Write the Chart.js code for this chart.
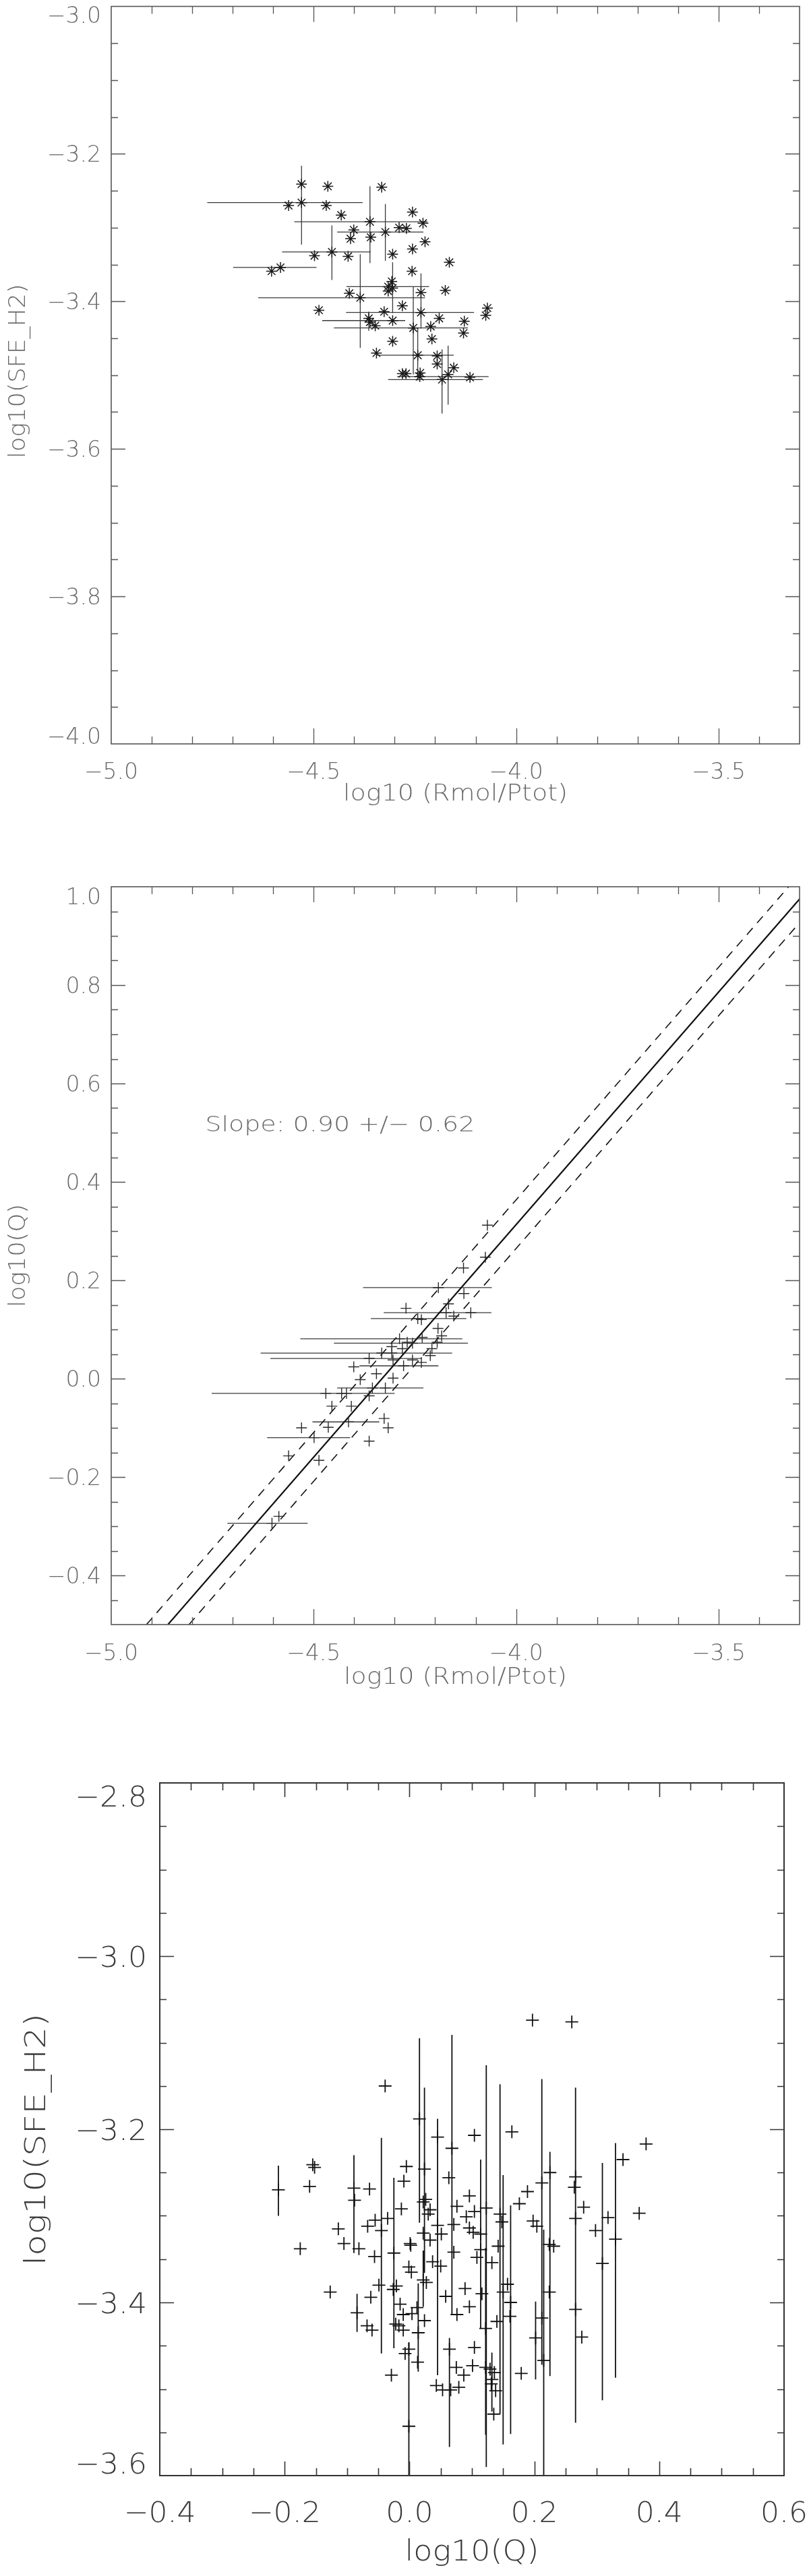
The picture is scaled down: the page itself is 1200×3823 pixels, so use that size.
<!DOCTYPE html>
<html>
<head>
<meta charset="utf-8">
<script src="https://cdn.jsdelivr.net/npm/chart.js@4.4.1/dist/chart.umd.min.js"></script>
<style>
html,body{margin:0;padding:0;background:#fff;}
body{width:1200px;height:3823px;position:relative;overflow:hidden;}
canvas{position:absolute;left:0;}
</style>
</head>
<body>
<canvas id="c1" width="1200" height="1250" style="top:0px"></canvas>
<canvas id="c2" width="1200" height="1300" style="top:1250px"></canvas>
<canvas id="c3" width="1200" height="1273" style="top:2550px"></canvas>
<script>
// ---------------- Panel 1 : log10(SFE_H2) vs log10(Rmol/Ptot) ----------------
const p1X = [-4.530,-4.465,-4.332,-4.562,-4.530,-4.469,-4.432,-4.256,-4.361,-4.230,
  -4.401,-4.323,-4.289,-4.271,-4.409,-4.359,-4.225,-4.256,-4.305,-4.455,
  -4.498,-4.415,-4.582,-4.604,-4.165,-4.257,-4.307,-4.316,-4.305,-4.316,
  -4.235,-4.412,-4.385,-4.175,-4.281,-4.487,-4.071,-4.075,-4.326,-4.235,
  -4.190,-4.364,-4.361,-4.348,-4.305,-4.128,-4.254,-4.211,-4.130,-4.305,
  -4.208,-4.345,-4.243,-4.195,-4.195,-4.154,-4.281,-4.272,-4.237,-4.238,
  -4.183,-4.114,-4.168];
const p1Y = [-3.241,-3.244,-3.245,-3.270,-3.266,-3.270,-3.283,-3.279,-3.292,-3.294,
  -3.303,-3.306,-3.300,-3.301,-3.315,-3.313,-3.319,-3.329,-3.336,-3.333,
  -3.338,-3.339,-3.354,-3.359,-3.347,-3.359,-3.373,-3.380,-3.382,-3.386,
  -3.388,-3.389,-3.395,-3.385,-3.406,-3.412,-3.409,-3.419,-3.414,-3.415,
  -3.423,-3.423,-3.428,-3.433,-3.426,-3.427,-3.436,-3.434,-3.443,-3.454,
  -3.451,-3.470,-3.473,-3.474,-3.485,-3.490,-3.498,-3.498,-3.497,-3.502,
  -3.506,-3.503,-3.499];
const p1XLo = [null,null,null,null,-4.763,null,null,null,-4.548,null,
  null,-4.442,null,null,null,null,null,null,null,-4.578,
  null,null,-4.699,null,null,null,null,-4.419,null,null,
  null,null,-4.637,null,null,null,null,null,null,-4.420,
  null,null,null,null,-4.479,null,-4.450,null,null,null,
  null,null,-4.345,null,null,null,null,null,null,-4.294,
  -4.316,null,null];
const p1XHi = [null,null,null,null,-4.379,null,null,null,-4.219,null,
  null,-4.229,null,null,null,null,null,null,null,-4.359,
  null,null,-4.493,null,null,null,null,-4.215,null,null,
  null,null,-4.225,null,null,null,null,null,null,-4.104,
  null,null,null,null,-4.274,null,-4.119,null,null,null,
  null,null,-4.154,null,null,null,null,null,null,-4.068,
  -4.082,null,null];
const p1YLo = [null,null,null,null,-3.323,null,null,null,-3.348,null,
  null,-3.345,null,null,null,null,null,null,null,-3.371,
  null,null,null,null,null,null,null,null,-3.416,null,
  -3.437,null,-3.463,null,null,null,null,null,null,null,
  null,-3.440,null,null,null,null,-3.499,null,null,null,
  null,null,-3.507,null,null,null,null,null,null,null,
  -3.552,null,-3.540];
const p1YHi = [null,null,null,null,-3.216,null,null,null,-3.244,null,
  null,-3.268,null,null,null,null,null,null,null,-3.297,
  null,null,null,null,null,null,null,null,-3.347,null,
  -3.362,null,-3.336,null,null,null,null,null,null,null,
  null,-3.414,null,null,null,null,-3.380,null,null,null,
  null,null,-3.436,null,null,null,null,null,null,null,
  -3.465,null,-3.460];
const p1XTicks = [-5.0,-4.5,-4.0,-3.5];
const p1XTickLabels = ['\u22125.0','\u22124.5','\u22124.0','\u22123.5'];
const p1YTicks = [-4.0,-3.8,-3.6,-3.4,-3.2,-3.0];
const p1YTickLabels = ['\u22124.0','\u22123.8','\u22123.6','\u22123.4','\u22123.2','\u22123.0'];

// ---------------- Panel 2 : log10(Q) vs log10(Rmol/Ptot) ----------------
const p2X = [-4.071,-4.076,-4.130,-4.192,-4.129,-4.167,-4.272,-4.173,-4.112,-4.154,
  -4.243,-4.234,-4.193,-4.184,-4.232,-4.288,-4.195,-4.256,-4.269,-4.307,
  -4.281,-4.208,-4.307,-4.332,-4.212,-4.363,-4.304,-4.256,-4.234,-4.278,
  -4.401,-4.345,-4.304,-4.385,-4.355,-4.323,-4.470,-4.431,-4.419,-4.363,
  -4.455,-4.407,-4.326,-4.414,-4.530,-4.464,-4.316,-4.499,-4.363,-4.562,
  -4.487,-4.586,-4.603];
const p2Y = [0.312,0.247,0.225,0.185,0.173,0.152,0.143,0.134,0.134,0.127,
  0.122,0.120,0.102,0.087,0.084,0.081,0.074,0.072,0.074,0.065,
  0.061,0.061,0.052,0.052,0.047,0.041,0.038,0.038,0.033,0.026,
  0.024,0.010,0.001,-0.002,-0.019,-0.019,-0.030,-0.030,-0.030,-0.035,
  -0.056,-0.056,-0.081,-0.088,-0.100,-0.099,-0.100,-0.120,-0.127,-0.157,
  -0.166,-0.280,-0.294];
const p2XLo = [null,null,null,-4.378,null,null,null,-4.327,null,null,
  -4.359,null,null,null,null,-4.533,null,-4.450,null,null,
  null,null,-4.631,null,null,-4.607,null,null,null,-4.387,
  null,null,null,null,-4.442,null,-4.752,null,null,null,
  null,null,null,-4.503,null,null,null,-4.615,null,null,
  null,null,-4.713];
const p2XHi = [null,null,null,-4.060,null,null,null,-4.061,null,null,
  -4.123,null,null,null,null,-4.133,null,-4.119,null,null,
  null,null,-4.158,null,null,-4.234,null,null,null,-4.192,
  null,null,null,null,-4.229,null,-4.300,null,null,null,
  null,null,null,-4.338,null,null,null,-4.410,null,null,
  null,null,-4.515];
const p2FitX = [-4.860,-3.300];
const p2FitY = [-0.500,0.975];
const p2UpperX = [-4.913,-3.327];
const p2UpperY = [-0.500,1.000];
const p2LowerX = [-4.808,-3.300];
const p2LowerY = [-0.500,0.927];
const p2SlopeText = 'Slope: 0.90 +/\u2212 0.62';
const p2XTicks = [-5.0,-4.5,-4.0,-3.5];
const p2XTickLabels = ['\u22125.0','\u22124.5','\u22124.0','\u22123.5'];
const p2YTicks = [-0.4,-0.2,0.0,0.2,0.4,0.6,0.8,1.0];
const p2YTickLabels = ['\u22120.4','\u22120.2','0.0','0.2','0.4','0.6','0.8','1.0'];

// ---------------- Panel 3 : log10(SFE_H2) vs log10(Q) ----------------
const p3X = [-0.210,-0.155,-0.152,-0.160,-0.175,-0.114,-0.105,-0.127,-0.089,-0.088,
  -0.081,-0.084,-0.064,-0.067,-0.055,-0.056,-0.045,-0.035,-0.039,-0.049,
  -0.062,-0.068,-0.060,-0.025,-0.029,-0.026,-0.021,-0.015,-0.022,-0.017,
  -0.010,-0.010,-0.013,-0.009,-0.005,0.001,0.002,-0.001,0.003,-0.001,
  -0.007,-0.001,0.004,0.012,0.014,0.013,0.016,0.024,0.022,0.026,
  0.033,0.030,0.033,0.022,0.022,0.027,0.024,0.045,0.045,0.051,
  0.037,0.050,0.058,0.043,0.053,0.063,0.068,0.071,0.071,0.076,
  0.064,0.066,0.076,0.075,
  0.197,0.260,0.104,0.164,0.379,0.342,0.225,0.212,0.189,0.176,
  0.096,0.266,0.264,0.266,0.279,0.368,0.318,0.298,0.309,0.330,
  0.104,0.091,0.096,0.102,0.123,0.114,0.114,0.108,0.132,0.145,
  0.148,0.142,0.198,0.204,0.224,0.231,0.089,0.096,0.116,0.122,
  0.140,0.150,0.157,0.162,0.161,0.104,0.101,0.087,0.122,0.129,
  0.136,0.131,0.138,0.135,0.132,0.079,0.179,0.202,0.212,0.215,
  0.224,0.266,0.276];
const p3Y = [-3.270,-3.241,-3.244,-3.266,-3.338,-3.315,-3.332,-3.388,-3.268,-3.282,
  -3.338,-3.412,-3.269,-3.312,-3.305,-3.347,-3.317,-3.303,-3.150,-3.380,
  -3.394,-3.427,-3.432,-3.343,-3.484,-3.385,-3.381,-3.402,-3.425,-3.427,
  -3.432,-3.414,-3.292,-3.260,-3.243,-3.332,-3.334,-3.359,-3.365,-3.454,
  -3.459,-3.543,-3.413,-3.406,-3.435,-3.469,-3.188,-3.246,-3.284,-3.281,
  -3.293,-3.298,-3.328,-3.320,-3.374,-3.377,-3.421,-3.209,-3.311,-3.321,
  -3.353,-3.358,-3.393,-3.496,-3.501,-3.256,-3.222,-3.310,-3.342,-3.289,
  -3.454,-3.501,-3.414,-3.475,
  -3.074,-3.076,-3.207,-3.203,-3.217,-3.235,-3.250,-3.262,-3.272,-3.286,
  -3.277,-3.255,-3.267,-3.303,-3.290,-3.297,-3.302,-3.317,-3.355,-3.327,
  -3.295,-3.301,-3.314,-3.319,-3.291,-3.321,-3.339,-3.348,-3.354,-3.298,
  -3.307,-3.335,-3.306,-3.312,-3.333,-3.335,-3.384,-3.405,-3.390,-3.430,
  -3.422,-3.388,-3.379,-3.400,-3.416,-3.452,-3.473,-3.484,-3.475,-3.477,
  -3.481,-3.494,-3.502,-3.529,-3.489,-3.498,-3.482,-3.441,-3.418,-3.467,
  -3.388,-3.408,-3.440];
const p3YLo = [-3.300,null,null,null,null,null,null,null,-3.343,null,
  null,-3.434,null,null,null,null,-3.459,null,null,null,
  null,null,null,-3.453,null,null,null,null,null,null,
  null,null,null,null,null,null,null,null,null,-3.650,
  null,null,null,null,-3.480,null,-3.308,-3.366,null,null,
  null,null,null,null,-3.405,null,null,-3.484,null,null,
  null,null,null,null,null,null,-3.414,null,null,null,
  -3.567,null,null,null,
  null,null,null,null,null,null,-3.485,-3.432,null,null,
  null,-3.539,null,null,null,null,null,null,-3.513,-3.487,
  null,null,null,null,-3.590,null,-3.430,null,null,-3.529,
  null,null,null,null,null,null,null,null,null,-3.553,
  null,-3.564,null,-3.552,null,null,null,null,null,null,
  null,null,null,null,-3.526,null,null,-3.489,-3.472,-3.650,
  null,null,null];
const p3YHi = [-3.242,null,null,null,null,null,null,null,-3.230,null,
  null,-3.390,null,null,null,null,-3.210,null,null,null,
  null,null,null,-3.256,null,null,null,null,null,null,
  null,null,null,null,null,null,null,null,null,-3.446,
  null,null,null,null,-3.378,null,-3.095,-3.152,null,null,
  null,null,null,null,-3.340,null,null,-3.188,null,null,
  null,null,null,null,null,null,-3.091,null,null,null,
  -3.441,null,null,null,
  null,null,null,null,null,null,-3.226,-3.142,null,null,
  null,-3.152,null,null,null,null,null,null,-3.239,-3.216,
  null,null,null,null,-3.126,null,-3.235,null,null,-3.148,
  null,null,null,null,null,null,null,null,null,-3.337,
  null,-3.253,null,-3.288,null,null,null,null,null,null,
  null,null,null,null,-3.458,null,null,-3.399,-3.371,-3.316,
  null,null,null];
const p3XTicks = [-0.4,-0.2,0.0,0.2,0.4,0.6];
const p3XTickLabels = ['\u22120.4','\u22120.2','0.0','0.2','0.4','0.6'];
const p3YTicks = [-3.6,-3.4,-3.2,-3.0,-2.8];
const p3YTickLabels = ['\u22123.6','\u22123.4','\u22123.2','\u22123.0','\u22122.8'];

// ---------------- helpers ----------------
function pts(xs, ys){ return xs.map((v,i)=>({x:v, y:ys[i]})); }

function errBarPlugin(xs, ys, xLo, xHi, yLo, yHi, color, width){
  return {
    id: 'errbars',
    beforeDatasetsDraw(chart){
      const {ctx, chartArea:a, scales:{x, y}} = chart;
      ctx.save();
      ctx.beginPath(); ctx.rect(a.left, a.top, a.right-a.left, a.bottom-a.top); ctx.clip();
      ctx.strokeStyle = color; ctx.lineWidth = width; ctx.lineCap = 'butt';
      ctx.beginPath();
      for (let i=0;i<xs.length;i++){
        const px = x.getPixelForValue(xs[i]), py = y.getPixelForValue(ys[i]);
        if (xLo && xLo[i] !== null && xLo[i] !== undefined){
          ctx.moveTo(x.getPixelForValue(xLo[i]), py); ctx.lineTo(x.getPixelForValue(xHi[i]), py);
        }
        if (yLo && yLo[i] !== null && yLo[i] !== undefined){
          ctx.moveTo(px, y.getPixelForValue(yLo[i])); ctx.lineTo(px, y.getPixelForValue(yHi[i]));
        }
      }
      ctx.stroke();
      ctx.restore();
    }
  };
}

function steps(min, max, step){
  const out=[]; const n=Math.round((max-min)/step);
  for (let i=0;i<=n;i++) out.push(+(min+i*step).toFixed(6));
  return out;
}

// draws text stretched horizontally by factor s (along the text direction)
function stretchText(ctx, txt, x, y, align, s, rot){
  ctx.save();
  ctx.translate(x, y);
  if (rot) ctx.rotate(rot);
  ctx.scale(s, 1);
  ctx.textAlign = align;
  ctx.fillText(txt, 0, 0);
  ctx.restore();
}
function widthOf(ctx, font, txt){ ctx.save(); ctx.font = font; const w = ctx.measureText(txt).width; ctx.restore(); return w; }

function idlAxesPlugin(c){
  return {
    id: 'idlaxes',
    afterDraw(chart){
      const {ctx, chartArea:a, scales:{x, y}} = chart;
      ctx.save();
      // ticks
      ctx.strokeStyle = c.tickColor; ctx.lineWidth = c.tickWidth;
      ctx.beginPath();
      const isMajor = (v, arr) => arr.some(m => Math.abs(m-v) < 1e-6);
      steps(x.min, x.max, c.xMinorStep).forEach(v=>{
        const px = Math.round(x.getPixelForValue(v)) + 0.5;
        if (px <= a.left+1 || px >= a.right-1) return;
        const len = isMajor(v, c.xTicks) ? c.xMajorLen : c.xMinorLen;
        ctx.moveTo(px, a.bottom); ctx.lineTo(px, a.bottom-len);
        ctx.moveTo(px, a.top); ctx.lineTo(px, a.top+len);
      });
      steps(y.min, y.max, c.yMinorStep).forEach(v=>{
        const py = Math.round(y.getPixelForValue(v)) + 0.5;
        if (py <= a.top+1 || py >= a.bottom-1) return;
        const len = isMajor(v, c.yTicks) ? c.yMajorLen : c.yMinorLen;
        ctx.moveTo(a.left, py); ctx.lineTo(a.left+len, py);
        ctx.moveTo(a.right, py); ctx.lineTo(a.right-len, py);
      });
      ctx.stroke();
      // frame
      ctx.strokeStyle = c.frameColor; ctx.lineWidth = c.frameWidth;
      ctx.strokeRect(a.left, a.top, a.right-a.left, a.bottom-a.top);
      // tick labels
      ctx.fillStyle = c.labelColor; ctx.font = c.labelFont; ctx.textBaseline = 'alphabetic';
      const ls = c.labelRefWidth / widthOf(ctx, c.labelFont, c.labelRef);
      c.xTicks.forEach((v,i)=>{
        stretchText(ctx, c.xLabels[i], x.getPixelForValue(v), a.bottom + c.xLabelBase, 'center', ls);
      });
      c.yTicks.forEach((v,i)=>{
        let cy = y.getPixelForValue(v);
        cy = Math.max(a.top + c.yClamp, Math.min(a.bottom - c.yClamp, cy));
        stretchText(ctx, c.yLabels[i], a.left - c.yLabelGap, cy + c.capH/2, 'right', ls);
      });
      // titles
      ctx.fillStyle = c.titleColor; ctx.font = c.titleFont;
      const xs = c.xTitleWidth / widthOf(ctx, c.titleFont, c.xTitle);
      stretchText(ctx, c.xTitle, (a.left+a.right)/2, a.bottom + c.xTitleBase, 'center', xs);
      const ys = c.yTitleWidth / widthOf(ctx, c.titleFont, c.yTitle);
      stretchText(ctx, c.yTitle, c.yTitleX, (a.top+a.bottom)/2 + c.yTitleShift, 'center', ys, -Math.PI/2);
      if (c.note){
        ctx.fillStyle = c.labelColor; ctx.font = c.noteFont; ctx.textBaseline = 'middle';
        const ns = c.note.width / widthOf(ctx, c.noteFont, c.note.text);
        stretchText(ctx, c.note.text, x.getPixelForValue(c.note.x), y.getPixelForValue(c.note.y), 'left', ns);
      }
      ctx.restore();
    }
  };
}

const FONT = '"DejaVu Sans", "Noto Sans", sans-serif';
const baseOpts = (pad, xr, yr) => ({
  responsive: false, animation: false, devicePixelRatio: 1, events: [],
  layout: { padding: pad },
  scales: {
    x: { type: 'linear', min: xr[0], max: xr[1], display: false },
    y: { type: 'linear', min: yr[0], max: yr[1], display: false }
  },
  plugins: { legend: { display: false }, tooltip: { enabled: false } }
});

// ---------------- Chart 1 ----------------
new Chart(document.getElementById('c1'), {
  type: 'scatter',
  data: { datasets: [{
    data: pts(p1X, p1Y), pointStyle: 'star', pointRadius: 8,
    borderColor: '#1a1a1a', backgroundColor: 'rgba(0,0,0,0)', pointBorderWidth: 1.5
  }]},
  options: baseOpts({left:165, top:7, right:14, bottom:146}, [-5.0,-3.3], [-4.0,-3.0]),
  plugins: [
    errBarPlugin(p1X, p1Y, p1XLo, p1XHi, p1YLo, p1YHi, '#3a3a3a', 1.3),
    idlAxesPlugin({
      xTicks: p1XTicks, xLabels: p1XTickLabels, xMinorStep: 0.1,
      yTicks: p1YTicks, yLabels: p1YTickLabels, yMinorStep: 0.05,
      xMajorLen: 23, xMinorLen: 11, yMajorLen: 21, yMinorLen: 10,
      tickColor: '#555', tickWidth: 1.3, frameColor: '#555', frameWidth: 1.6,
      labelColor: '#6a6a6a', labelFont: '200 33px ' + FONT,
      labelRef: '\u22125.0', labelRefWidth: 80,
      xLabelBase: 52, yLabelGap: 15, capH: 24, yClamp: 12,
      titleColor: '#6a6a6a', titleFont: '200 34px ' + FONT,
      xTitle: 'log10 (Rmol/Ptot)', xTitleBase: 84, xTitleWidth: 333,
      yTitle: 'log10(SFE_H2)', yTitleX: 37, yTitleWidth: 259, yTitleShift: -6
    })
  ]
});

// ---------------- Chart 2 ----------------
new Chart(document.getElementById('c2'), {
  type: 'scatter',
  data: { datasets: [
    { data: pts(p2X, p2Y), pointStyle: 'cross', pointRadius: 8,
      borderColor: '#2a2a2a', pointBorderWidth: 1.4 },
    { data: pts(p2FitX, p2FitY), showLine: true, pointRadius: 0,
      borderColor: '#111', borderWidth: 2.2 },
    { data: pts(p2UpperX, p2UpperY), showLine: true, pointRadius: 0,
      borderColor: '#111', borderWidth: 1.6, borderDash: [13, 10] },
    { data: pts(p2LowerX, p2LowerY), showLine: true, pointRadius: 0,
      borderColor: '#111', borderWidth: 1.6, borderDash: [13, 10] }
  ]},
  options: baseOpts({left:165, top:66, right:14, bottom:139}, [-5.0,-3.3], [-0.5,1.0]),
  plugins: [
    errBarPlugin(p2X, p2Y, p2XLo, p2XHi, null, null, '#3a3a3a', 1.3),
    idlAxesPlugin({
      xTicks: p2XTicks, xLabels: p2XTickLabels, xMinorStep: 0.1,
      yTicks: p2YTicks, yLabels: p2YTickLabels, yMinorStep: 0.05,
      xMajorLen: 23, xMinorLen: 11, yMajorLen: 21, yMinorLen: 10,
      tickColor: '#555', tickWidth: 1.3, frameColor: '#555', frameWidth: 1.6,
      labelColor: '#6a6a6a', labelFont: '200 33px ' + FONT,
      labelRef: '\u22125.0', labelRefWidth: 80,
      xLabelBase: 53, yLabelGap: 15, capH: 24, yClamp: 14,
      titleColor: '#6a6a6a', titleFont: '200 34px ' + FONT,
      xTitle: 'log10 (Rmol/Ptot)', xTitleBase: 88, xTitleWidth: 331,
      yTitle: 'log10(Q)', yTitleX: 37, yTitleWidth: 153, yTitleShift: 0,
      note: { text: p2SlopeText, x: -4.768, y: 0.514, width: 400 }, noteFont: '200 32px ' + FONT
    })
  ]
});

// ---------------- Chart 3 ----------------
new Chart(document.getElementById('c3'), {
  type: 'scatter',
  data: { datasets: [{
    data: pts(p3X, p3Y), pointStyle: 'cross', pointRadius: 9.5,
    borderColor: '#111', pointBorderWidth: 1.8
  }]},
  options: baseOpts({left:237, top:96, right:37, bottom:149}, [-0.4,0.6], [-3.6,-2.8]),
  plugins: [
    errBarPlugin(p3X, p3Y, null, null, p3YLo, p3YHi, '#111', 1.8),
    idlAxesPlugin({
      xTicks: p3XTicks, xLabels: p3XTickLabels, xMinorStep: 0.05,
      yTicks: p3YTicks, yLabels: p3YTickLabels, yMinorStep: 0.05,
      xMajorLen: 21, xMinorLen: 11, yMajorLen: 21, yMinorLen: 10,
      tickColor: '#333', tickWidth: 1.6, frameColor: '#333', frameWidth: 2,
      labelColor: '#3a3a3a', labelFont: '200 43px ' + FONT,
      labelRef: '\u22120.4', labelRefWidth: 107,
      xLabelBase: 69, yLabelGap: 19, capH: 31, yClamp: 19,
      titleColor: '#3a3a3a', titleFont: '200 42px ' + FONT,
      xTitle: 'log10(Q)', xTitleBase: 126, xTitleWidth: 199,
      yTitle: 'log10(SFE_H2)', yTitleX: 67, yTitleWidth: 374, yTitleShift: 15
    })
  ]
});
</script>
</body>
</html>
